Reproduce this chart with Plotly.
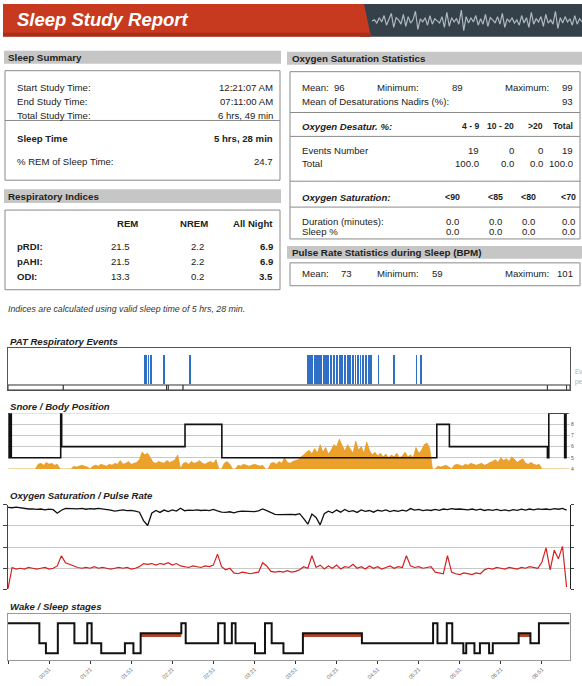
import plotly.graph_objects as go

W, H = 582, 686


def px(x):
    return x / W


def py(y):
    return 1 - y / H


# ---------------- data ----------------
summary_labels = ["Start Study Time:", "End Study Time:", "Total Study Time:", "Sleep Time", "% REM of Sleep Time:"]
summary_values = ["12:21:07 AM", "07:11:00 AM", "6 hrs, 49 min", "5 hrs, 28 min", "24.7"]

resp_columns = ["REM", "NREM", "All Night"]
resp_rows = ["pRDI:", "pAHI:", "ODI:"]
resp_rem = ["21.5", "21.5", "13.3"]
resp_nrem = ["2.2", "2.2", "0.2"]
resp_all = ["6.9", "6.9", "3.5"]
resp_note = "Indices are calculated using valid sleep time of 5 hrs, 28 min."

spo2_stats = ["96", "89", "99"]          # mean, minimum, maximum
desat_nadir_mean = "93"
desat_columns = ["4 - 9", "10 - 20", ">20", "Total"]
desat_events = ["19", "0", "0", "19"]
desat_total = ["100.0", "0.0", "0.0", "100.0"]
sat_columns = ["<90", "<85", "<80", "<70"]
sat_duration = ["0.0", "0.0", "0.0", "0.0"]
sat_sleep_pct = ["0.0", "0.0", "0.0", "0.0"]
pulse_stats = ["73", "59", "101"]        # mean, minimum, maximum

tick_minutes = [0, 30, 60, 90, 120, 150, 180, 210, 240, 270, 300, 330, 360, 390]
tick_labels = ["00:21", "00:51", "01:21", "01:51", "02:21", "02:51", "03:21",
               "03:51", "04:21", "04:51", "05:21", "05:51", "06:21", "06:51"]

# PAT respiratory events (minutes from study start)
event_minutes = [99.8, 101.2, 102.6, 104.2, 114.2, 133.2,
                 219.0, 220.5, 222.2, 224.0, 225.5, 227.0, 228.5, 230.6, 232.3, 234.0,
                 236.0, 238.2, 240.4, 242.5, 244.0, 246.3, 248.5, 250.0, 252.0, 253.8,
                 255.5, 257.5, 259.5, 261.5, 263.8, 265.3, 270.6, 282.0, 298.3, 301.4]
event_height = [1] * len(event_minutes)

# signal-quality strip under PAT events (segment boundaries, minutes)
strip_bounds = [0, 40.4, 115.8, 117.1, 127.9, 394.0, 408.0, 410.5]

# snore level (dB), one value every 2 minutes
snore_minutes = list(range(0, 412, 2))
snore_db = [
    40, 40, 40, 40, 40, 40, 40, 40, 40, 40, 40,
    45, 46, 44, 47, 45, 46, 44, 45,
    40, 40, 40, 40, 40,
    43, 42, 43, 44, 43, 42,
    40,
    43, 44, 43, 45, 44, 43, 45, 44, 46, 45, 49, 45, 46, 48, 45, 46, 47, 50,
    58, 55, 57, 52,
    47, 46, 48, 47, 46, 49, 47, 48, 50, 55,
    40,
    46, 47, 45, 48, 46, 47, 49, 46, 45, 47, 48, 46, 50,
    40, 40,
    46, 48, 45,
    40, 40,
    44, 43, 45, 44, 43, 44, 45, 44, 43, 44,
    40, 40,
    46, 47, 45, 48, 46, 52, 47, 46, 48, 49,
    50, 53, 55, 58,
    60, 56, 62, 57, 66, 58, 63, 56, 60, 66, 64, 72, 65, 59, 66, 61, 57, 70, 60, 64,
    57, 69, 60, 55, 58, 54, 57, 53, 56, 52, 55, 53, 57, 52, 54, 58, 53, 55, 52, 63,
    57, 60, 66, 68, 62,
    40, 40,
    43, 42, 43, 44, 42,
    40,
    44, 45, 44, 43, 45, 44, 46, 45, 44, 45, 46, 44, 45, 47,
    48, 50, 47, 52, 49, 51, 48, 53, 50, 47, 49, 51,
    46, 45, 47, 45, 44, 45,
    40, 40, 40, 40, 40, 40, 40, 40, 40, 40, 40]
assert len(snore_db) == len(snore_minutes), (len(snore_db), len(snore_minutes))

# body position (level code), change points in minutes
position_minutes = [0, 0.8, 1.6, 2.4, 38.5, 39.2, 129.3, 156.2, 313.2, 322.4, 394.0, 395.0, 406.6, 407.6, 409.5]
position_levels = [9, 5, 9, 5, 9, 6, 8, 5, 8, 6, 5, 9, 5, 9, 9]
position_ticks = [4, 5, 6, 7, 8]

# SpO2 (%) and pulse (bpm), one value every 3 minutes
signal_minutes = list(range(0, 409, 3))
spo2 = [98.8, 98.6, 98.9, 98.5, 98.2, 98.0, 98.1, 97.8, 98.0, 97.6, 97.9, 97.7, 96.0, 97.4,
        98.3, 98.2, 98.4, 98.1, 98.3, 97.9, 98.2, 98.0, 98.3, 98.1, 97.8, 97.5, 97.0, 97.3,
        97.6, 97.2, 97.4, 97.0, 96.5, 92.5, 90.2, 96.0, 97.3, 96.4, 97.5, 96.8, 97.6, 97.0,
        98.4, 97.2, 97.5, 97.4, 97.6, 97.3, 97.5, 97.2, 97.8, 97.1, 96.5, 96.4, 96.7, 96.2,
        96.8, 97.0, 96.9, 97.0, 96.8, 97.1, 98.0, 97.2, 96.2, 95.5, 95.3, 95.4, 95.2, 95.5,
        95.3, 95.8, 93.5, 90.8, 95.6, 94.0, 90.5, 95.8, 97.0, 96.2, 97.5, 96.5, 97.8, 96.8,
        97.2, 96.4, 97.6, 96.9, 97.3, 96.5, 97.4, 97.0, 97.6, 96.8, 97.3, 96.9, 97.5, 97.0,
        98.2, 97.5, 97.8, 97.2, 97.6, 97.3, 97.8, 97.4, 98.0, 97.7, 98.2, 97.9, 98.0, 97.8,
        97.6, 98.0, 97.5, 97.9, 97.3, 97.7, 97.4, 97.8, 97.2, 97.6, 97.1, 97.7, 97.4, 97.9,
        97.5, 98.0, 97.6, 98.1, 97.8, 98.0, 97.7, 98.2, 97.9, 98.3, 97.5]
pulse = [46, 73, 71, 72, 71, 73, 72, 71, 72, 73, 71, 72, 75, 88, 79, 77, 74, 73, 72, 73,
         72, 74, 72, 73, 72, 71, 72, 73, 72, 73, 71, 72, 74, 78, 77, 78, 76, 78, 77, 79,
         76, 78, 75, 74, 73, 75, 74, 73, 75, 74, 76, 90, 74, 70, 72, 66, 65, 67, 66, 65,
         66, 67, 79, 75, 68, 67, 68, 67, 69, 67, 68, 70, 74, 72, 88, 73, 76, 71, 75, 72,
         76, 71, 74, 73, 77, 72, 74, 71, 75, 72, 74, 71, 73, 75, 72, 74, 73, 88, 75, 73,
         74, 72, 73, 74, 67, 66, 65, 88, 67, 65, 64, 66, 65, 64, 66, 65, 70, 72, 71, 73,
         72, 71, 73, 72, 71, 73, 72, 74, 73, 72, 80, 98, 70, 95, 84, 100, 48]
assert len(spo2) == len(signal_minutes), (len(spo2), len(signal_minutes))
assert len(pulse) == len(signal_minutes), (len(pulse), len(signal_minutes))

# wake / sleep stages (change points, minutes)
stage_minutes = [0, 22.9, 27.7, 36.4, 48.5, 57.9, 61.1, 68.1, 85.4, 91.6, 96.9, 126.6, 129.8,
                 153.5, 158.3, 163.5, 166.2, 180.4, 187.7, 192.6, 201.2, 215.4, 258.5, 310.5,
                 313.7, 320.5, 324.5, 332.6, 334.7, 340.7, 344.7, 351.4, 354.1, 373.0, 381.6,
                 387.8, 410.0]
stage_labels = ["W", "L", "D", "W", "L", "W", "L", "D", "L", "D", "R", "W", "L", "W", "L", "W",
                "L", "D", "W", "L", "D", "R", "L", "W", "L", "W", "L", "D", "L", "D", "L", "D",
                "L", "R", "L", "W", "W"]
stage_levels = {"D": 1, "L": 2, "R": 3, "W": 4}

# decorative waveform in the header banner
header_wave = [0.0, 0.1, -0.2, 0.3, -0.1, 0.5, -0.4, 0.2, 0.7, -0.6, 0.3, 0.1, -0.3, 0.6, -0.5,
               0.4, -0.2, 0.1, 0.9, -0.8, 0.2, -0.1, 0.3, -0.4, 0.5, -0.3, 0.2, 0.0, -0.2, 0.4,
               -0.6, 0.8, -0.5, 0.3, -0.1, 0.2, -0.3, 1.0, -0.9, 0.4, -0.2, 0.3, -0.1, 0.5, -0.4,
               0.2, -0.3, 0.6, -0.5, 0.3, 0.1, -0.2, 0.4, -0.3, 0.7, -0.6, 0.2, -0.1, 0.3, -0.2,
               0.1, -0.4, 0.5, -0.2, 0.3, -0.6, 0.8, -0.3, 0.2, -0.1, 0.4, -0.5, 0.6, -0.2, 0.1,
               -0.3, 0.9, -0.7, 0.3, -0.2, 0.4, -0.1, 0.2, -0.4, 0.5, -0.3, 0.2, -0.1]

# ---------------- style ----------------
FONT = "Liberation Sans, Arial, sans-serif"
TXT = "#222222"
BOX = "#8a8a8a"
BAR = "#c6c6c6"
GRID = "#c8c8c8"
XR = [0, 410.5]
XDOM = [px(8), px(570)]
FS = 9.6     # table text size
FT = 9.8     # section title size

annotations = []
shapes = []


def txt(x, y, s, anchor="left", size=FS, bold=False, italic=False, color=TXT):
    if bold:
        s = "<b>" + s + "</b>"
    if italic:
        s = "<i>" + s + "</i>"
    annotations.append(dict(x=px(x), y=py(y), xref="paper", yref="paper", text=s,
                            showarrow=False, xanchor=anchor, yanchor="middle",
                            font=dict(family=FONT, size=size, color=color)))


def rect(x0, y0, x1, y1, fill=None, line=None, lw=1):
    shapes.append(dict(type="rect", xref="paper", yref="paper",
                       x0=px(x0), x1=px(x1), y0=py(y1), y1=py(y0),
                       fillcolor=fill if fill else "rgba(0,0,0,0)",
                       line=dict(color=line if line else "rgba(0,0,0,0)", width=lw),
                       layer="below"))


def hline(x0, x1, y, color=BOX, lw=1):
    shapes.append(dict(type="line", xref="paper", yref="paper", x0=px(x0), x1=px(x1),
                       y0=py(y), y1=py(y), line=dict(color=color, width=lw), layer="below"))


# ---------------- header ----------------
rect(360, 4, 582, 37, fill="#34404a")
shapes.append(dict(type="path", xref="paper", yref="paper",
                   path=f"M {px(3)},{py(4)} L {px(364)},{py(4)} L {px(371)},{py(37)} L {px(3)},{py(37)} Z",
                   fillcolor="#c73a20", line=dict(width=0), layer="below"))
rect(3, 33, 370, 37, fill="rgba(120,20,10,0.35)")
txt(15, 20, "Sleep Study Report", size=18.5, bold=True, italic=True, color="white")

# ---------------- Sleep Summary ----------------
rect(4, 51, 281, 64, fill=BAR)
txt(6, 57.5, "Sleep Summary", size=FT, bold=True)
rect(5, 71, 280, 181, line=BOX)
hline(5, 280, 121)
sum_y = [88, 102, 116, 139, 162]
for i, (lab, val) in enumerate(zip(summary_labels, summary_values)):
    b = (i == 3)
    txt(15, sum_y[i], lab, bold=b)
    txt(275, sum_y[i], val, anchor="right", bold=b)

# ---------------- Respiratory Indices ----------------
rect(4, 190, 281, 204, fill=BAR)
txt(6, 197, "Respiratory Indices", size=FT, bold=True)
rect(5, 211, 280, 291, line=BOX)
txt(127, 224, resp_columns[0], anchor="center", bold=True)
txt(194, 224, resp_columns[1], anchor="center", bold=True)
txt(275, 224, resp_columns[2], anchor="right", bold=True)
for i, row in enumerate(resp_rows):
    yy = 248 + 15 * i
    txt(15, yy, row, bold=True)
    txt(120, yy, resp_rem[i], anchor="center")
    txt(197, yy, resp_nrem[i], anchor="center")
    txt(275, yy, resp_all[i], anchor="right", bold=True)
txt(6, 310, resp_note, size=8.8, italic=True, color="#333")

# ---------------- Oxygen Saturation Statistics ----------------
rect(287, 52, 582, 65, fill=BAR)
txt(290, 58.5, "Oxygen Saturation Statistics", size=FT, bold=True)
rect(290, 72, 580, 240, line=BOX)
txt(300, 88, "Mean:")
txt(339, 88, spo2_stats[0], anchor="center")
txt(375, 88, "Minimum:")
txt(457, 88, spo2_stats[1], anchor="center")
txt(503, 88, "Maximum:")
txt(575, 88, spo2_stats[2], anchor="right")
txt(300, 102, "Mean of Desaturations Nadirs (%):")
txt(575, 102, desat_nadir_mean, anchor="right")
hline(290, 580, 113)
txt(300, 127, "Oxygen Desatur. %:", bold=True, italic=True)
col_r = [481, 516, 545, 575]
for c, lab in enumerate(desat_columns):
    txt(col_r[c], 127, lab, anchor="right", bold=True, size=8.6)
hline(290, 580, 137)
txt(300, 151, "Events Number")
txt(300, 164, "Total")
for c in range(4):
    txt(col_r[c], 151, desat_events[c], anchor="right")
    txt(col_r[c], 164, desat_total[c], anchor="right")
hline(290, 580, 182)
txt(300, 198, "Oxygen Saturation:", bold=True, italic=True)
sat_c = [452, 495, 528, 568]
for c, lab in enumerate(sat_columns):
    txt(sat_c[c], 198, lab, anchor="center", bold=True, size=8.8)
hline(290, 580, 208)
txt(300, 222, "Duration (minutes):")
txt(300, 233, "Sleep %")
for c in range(4):
    txt(sat_c[c], 222, sat_duration[c], anchor="center")
    txt(sat_c[c], 233, sat_sleep_pct[c], anchor="center")

# ---------------- Pulse Rate ----------------
rect(287, 247, 582, 260, fill=BAR)
txt(290, 253.5, "Pulse Rate Statistics during Sleep (BPM)", size=FT, bold=True)
rect(290, 264, 580, 287, line=BOX)
txt(300, 275, "Mean:")
txt(346, 275, pulse_stats[0], anchor="center")
txt(375, 275, "Minimum:")
txt(437, 275, pulse_stats[1], anchor="center")
txt(503, 275, "Maximum:")
txt(575, 275, pulse_stats[2], anchor="right")

# ---------------- chart titles ----------------
txt(8, 343, "PAT Respiratory Events", size=9.6, bold=True, italic=True)
txt(8, 408, "Snore / Body Position", size=9.6, bold=True, italic=True)
txt(8, 498, "Oxygen Saturation / Pulse Rate", size=9.6, bold=True, italic=True)
txt(8, 609, "Wake / Sleep stages", size=9.6, bold=True, italic=True)
txt(573, 373, "Ev", size=6.5, color="#b0b0b0")
txt(573, 384, "pe", size=6.5, color="#b0b0b0")

# ---------------- traces ----------------
traces = []
traces.append(go.Bar(x=event_minutes, y=event_height, base=0, width=1.3,
                     marker=dict(color="#2f6fc6", line=dict(width=0)),
                     xaxis="x", yaxis="y"))
for a, b in zip(strip_bounds[:-1], strip_bounds[1:]):
    shapes.append(dict(type="rect", xref="x", yref="y", x0=a, x1=b, y0=-0.19, y1=-0.02,
                       fillcolor="white", line=dict(color="#333", width=1), layer="above"))

traces.append(go.Scatter(x=snore_minutes, y=snore_db, mode="lines", fill="tozeroy",
                         line=dict(color="#e39a1c", width=0.7), fillcolor="#eba12a",
                         xaxis="x2", yaxis="y2"))
traces.append(go.Scatter(x=position_minutes, y=position_levels, mode="lines", line_shape="hv",
                         line=dict(color="#111", width=1.6), xaxis="x2", yaxis="y3"))

traces.append(go.Scatter(x=signal_minutes, y=spo2, mode="lines",
                         line=dict(color="#111", width=1.3), xaxis="x3", yaxis="y4"))
traces.append(go.Scatter(x=signal_minutes, y=pulse, mode="lines",
                         line=dict(color="#d42020", width=1.2), xaxis="x3", yaxis="y5"))

stage_y = [stage_levels[s] for s in stage_labels]
rem_x, rem_y = [], []
for i in range(len(stage_labels) - 1):
    if stage_labels[i] == "R":
        rem_x += [stage_minutes[i], stage_minutes[i + 1], None]
        rem_y += [stage_levels["R"] - 0.2, stage_levels["R"] - 0.2, None]
traces.append(go.Scatter(x=rem_x, y=rem_y, mode="lines", line=dict(color="#b5432a", width=3.5),
                         xaxis="x4", yaxis="y6"))
traces.append(go.Scatter(x=stage_minutes, y=stage_y, mode="lines", line_shape="hv",
                         line=dict(color="#111", width=2), xaxis="x4", yaxis="y6"))

traces.append(go.Scatter(y=header_wave, mode="lines", line=dict(color="#aeb7bc", width=1.2),
                         xaxis="x5", yaxis="y7"))

fig = go.Figure(traces)

# top line of snore panel
shapes.append(dict(type="line", xref="x2", yref="y3", x0=XR[0], x1=XR[1], y0=9, y1=9,
                   line=dict(color=GRID, width=1), layer="below"))

common_x = dict(range=XR, domain=XDOM, showgrid=False, zeroline=False, showticklabels=False, ticks="")
fig.update_layout(
    width=W, height=H, margin=dict(l=0, r=0, t=0, b=0),
    paper_bgcolor="white", plot_bgcolor="rgba(0,0,0,0)", showlegend=False,
    bargap=0, hovermode=False,
    xaxis=dict(**common_x, anchor="y", showline=True, mirror=True, linecolor="#555", linewidth=1),
    yaxis=dict(domain=[py(392), py(350)], range=[-0.2, 1.22], showgrid=False, zeroline=False,
               showticklabels=False, showline=True, mirror=True, linecolor="#555", anchor="x"),
    xaxis2=dict(**common_x, anchor="y2"),
    yaxis2=dict(domain=[py(471), py(415)], range=[40, 100], showgrid=False, zeroline=False,
                showticklabels=False, anchor="x2"),
    yaxis3=dict(overlaying="y2", side="right", anchor="x2", range=[4, 9], tickvals=position_ticks,
                ticktext=[str(v) for v in position_ticks], showgrid=True, gridcolor=GRID,
                zeroline=False, tickfont=dict(family=FONT, size=5, color="#555"), ticks=""),
    xaxis3=dict(**common_x, anchor="y4"),
    yaxis4=dict(domain=[py(592), py(507)], range=[60, 100], tickvals=[60, 70, 80, 90, 100],
                showgrid=True, gridcolor=GRID, zeroline=False, showticklabels=False,
                showline=True, linecolor="#444", ticks="outside", ticklen=4, tickcolor="#444",
                anchor="x3"),
    yaxis5=dict(overlaying="y4", side="right", anchor="x3", range=[45, 153],
                tickvals=[45, 72, 99, 126, 153], showgrid=False, zeroline=False,
                showticklabels=False, showline=True, linecolor="#222", ticks="outside",
                ticklen=3, tickcolor="#444"),
    xaxis4=dict(range=XR, domain=XDOM, anchor="y6", showgrid=False, zeroline=False,
                showline=True, mirror=True, linecolor="#999", tickvals=tick_minutes,
                ticktext=tick_labels, tickangle=-45, ticks="outside", ticklen=3,
                tickcolor="#333", tickfont=dict(family=FONT, size=5.5, color="#666")),
    yaxis6=dict(domain=[py(663), py(617)], range=[0.3, 4.9], showgrid=False, zeroline=False,
                showticklabels=False, showline=True, mirror=True, linecolor="#999", anchor="x4"),
    xaxis5=dict(domain=[px(372), px(582)], anchor="y7", visible=False),
    yaxis7=dict(domain=[py(35), py(7)], anchor="x5", visible=False, range=[-1.3, 1.3]),
    annotations=annotations, shapes=shapes,
)

fig.write_html("out.html", config={"displayModeBar": False, "staticPlot": True},
               post_script="document.body.style.margin='0px';document.body.style.overflow='hidden';")
